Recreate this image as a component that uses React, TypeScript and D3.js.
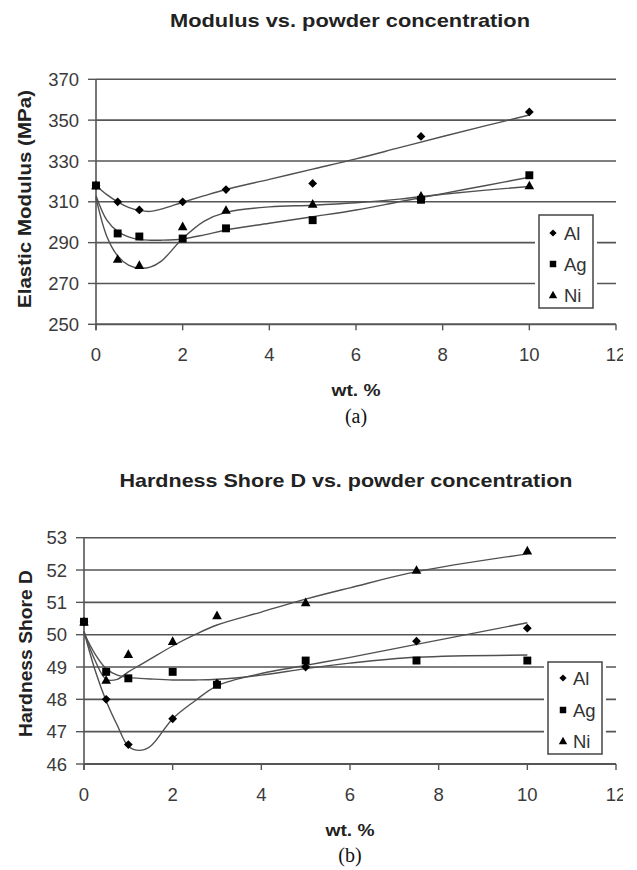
import React from "react";
import * as d3 from "d3";

// ---------- data ----------
const wt = [0, 0.5, 1, 2, 3, 5, 7.5, 10];
const xTicks = [0, 2, 4, 6, 8, 10, 12];

const modulusTicks = [250, 270, 290, 310, 330, 350, 370];
const modulusAl = [318, 310, 306, 310, 316, 319, 342, 354];
const modulusAg = [318, 294.5, 293, 292, 297, 301, 311, 323];
const modulusNi = [318, 282, 279, 298, 306, 309, 313, 318];

const modTrendX = [0, 0.25, 0.5, 0.75, 1, 1.25, 1.5, 2, 2.5, 3, 4, 5, 6, 7, 8, 9, 10];
const modTrendAl = [318, 313.5, 310, 307.3, 305.8, 305.3, 306.4, 309.8, 313, 316, 321, 326, 331, 336.5, 342, 347.3, 352.5];
const modTrendAg = [313, 301, 295.5, 292.8, 291.5, 291.2, 291.2, 291.8, 293.8, 296.2, 299.5, 302.7, 306, 310, 314, 318, 322];
const modTrendNi = [312, 293, 283.5, 279, 277.5, 278, 280.8, 292, 300.5, 304.8, 307.5, 308.3, 309.5, 311.3, 313.7, 315.7, 317.5];

const hardnessTicks = [46, 47, 48, 49, 50, 51, 52, 53];
const hardnessAl = [50.4, 48.0, 46.6, 47.4, 48.5, 49.0, 49.8, 50.2];
const hardnessAg = [50.4, 48.85, 48.65, 48.85, 48.45, 49.2, 49.2, 49.2];
const hardnessNi = [50.4, 48.6, 49.4, 49.8, 50.6, 51.0, 52.0, 52.6];

const hardTrendX = [0, 0.25, 0.5, 0.75, 1, 1.25, 1.5, 2, 2.5, 3, 4, 5, 6, 7.5, 10];
const hardTrendAl = [50.1, 48.9, 47.95, 47.2, 46.55, 46.42, 46.55, 47.4, 47.95, 48.42, 48.8, 49.05, 49.3, 49.7, 50.37];
const hardTrendAg = [50.05, 49.4, 48.95, 48.75, 48.68, 48.65, 48.63, 48.6, 48.6, 48.62, 48.75, 48.95, 49.12, 49.3, 49.37];
const hardTrendNi = [50.1, 49.2, 48.62, 48.62, 48.85, 49.05, 49.25, 49.65, 50.0, 50.3, 50.7, 51.1, 51.45, 51.95, 52.5];

const seriesNames = ["Al", "Ag", "Ni"];

// ---------- helpers ----------
const FONT = "'Liberation Sans', Arial, sans-serif";
const GRID = "#555";
const CURVE = "#505050";

function markerPath(kind: string, s: number) {
  if (kind === "Al") return `M0,${-s}L${s},0L0,${s}L${-s},0Z`;
  if (kind === "Ag") return `M${-s * 0.9},${-s * 0.9}H${s * 0.9}V${s * 0.9}H${-s * 0.9}Z`;
  return `M0,${-s}L${s},${s * 0.8}L${-s},${s * 0.8}Z`;
}

type PanelProps = {
  id: string;
  title: string;
  titleX: number;
  titleY: number;
  titleLen: number;
  yLabel: string;
  yLabelX: number;
  yLabelY: number;
  yLabelLen: number;
  x0: number;
  x1: number;
  yTop: number;
  yBottom: number;
  yTicks: number[];
  series: number[][];
  trendX: number[];
  trends: number[][];
  legend: { x: number; y: number; w: number; h: number; rows: number[]; mx: number; tx: number };
  wtY: number;
  subLabel: string;
  subY: number;
};

function Panel(p: PanelProps) {
  const x = d3.scaleLinear().domain([0, 12]).range([p.x0, p.x1]);
  const y = d3
    .scaleLinear()
    .domain([p.yTicks[0], p.yTicks[p.yTicks.length - 1]])
    .range([p.yBottom, p.yTop]);
  const line = d3
    .line<number>()
    .x((_, i) => x(p.trendX[i]))
    .y((d) => y(d))
    .curve(d3.curveCatmullRom.alpha(0.5));
  const L = p.legend;
  return (
    <g>
      <defs>
        <clipPath id={`clip-${p.id}`}>
          <rect x={0} y={0} width={623} height={870} />
        </clipPath>
      </defs>
      <text
        x={p.titleX}
        y={p.titleY}
        textAnchor="middle"
        fontFamily={FONT}
        fontWeight="bold"
        fontSize={19}
        fill="#222"
        textLength={p.titleLen}
        lengthAdjust="spacingAndGlyphs"
      >
        {p.title}
      </text>
      {/* gridlines */}
      {p.yTicks.map((t) => (
        <g key={t}>
          <line x1={p.x0} x2={p.x1} y1={y(t)} y2={y(t)} stroke={GRID} strokeWidth={1.6} />
          <line x1={p.x0 - 8} x2={p.x0} y1={y(t)} y2={y(t)} stroke={GRID} strokeWidth={1.4} />
          <text
            x={p.x0 - 17}
            y={y(t)}
            dy="0.36em"
            textAnchor="end"
            fontFamily={FONT}
            fontSize={18.5}
            fill="#3a3a3a"
          >
            {t}
          </text>
        </g>
      ))}
      {/* axes */}
      <line x1={p.x0} x2={p.x0} y1={p.yTop} y2={p.yBottom + 6} stroke={GRID} strokeWidth={1.6} />
      <line x1={p.x0} x2={p.x1} y1={p.yBottom} y2={p.yBottom} stroke={GRID} strokeWidth={1.8} />
      <g clipPath={`url(#clip-${p.id})`}>
        {xTicks.map((t) => (
          <g key={t}>
            <line x1={x(t)} x2={x(t)} y1={p.yBottom} y2={p.yBottom + 6} stroke={GRID} strokeWidth={1.4} />
            <text
              x={x(t)}
              y={p.yBottom + 37}
              textAnchor="middle"
              fontFamily={FONT}
              fontSize={18.5}
              fill="#3a3a3a"
            >
              {t}
            </text>
          </g>
        ))}
      </g>
      {/* trend curves */}
      {p.trends.map((tr, i) => (
        <path key={i} d={line(tr) || ""} fill="none" stroke={CURVE} strokeWidth={1.4} />
      ))}
      {/* markers */}
      {p.series.map((s, si) =>
        s.map((v, i) => (
          <path
            key={`${si}-${i}`}
            d={markerPath(seriesNames[si], si === 2 ? 4.8 : si === 1 ? 4.4 : 4.4)}
            transform={`translate(${x(wt[i])},${y(v)})`}
            fill="#000"
          />
        ))
      )}
      {/* legend */}
      <rect x={L.x - 4} y={L.y - 4} width={L.w + 8} height={L.h + 8} fill="#fff" />
      <rect x={L.x} y={L.y} width={L.w} height={L.h} fill="#fff" stroke="#444" strokeWidth={1.5} />
      {seriesNames.map((n, i) => (
        <g key={n}>
          <path d={markerPath(n, n === "Ni" ? 4.2 : 3.6)} transform={`translate(${L.mx},${L.rows[i]})`} fill="#000" />
          <text x={L.tx} y={L.rows[i]} dy="0.36em" fontFamily={FONT} fontSize={18.5} fill="#333">
            {n}
          </text>
        </g>
      ))}
      {/* y label */}
      <text
        transform={`translate(${p.yLabelX},${p.yLabelY}) rotate(-90)`}
        textAnchor="middle"
        fontFamily={FONT}
        fontWeight="bold"
        fontSize={19}
        fill="#222"
        textLength={p.yLabelLen}
        lengthAdjust="spacingAndGlyphs"
      >
        {p.yLabel}
      </text>
      {/* x label */}
      <text
        x={(p.x0 + p.x1) / 2}
        y={p.wtY}
        textAnchor="middle"
        fontFamily={FONT}
        fontWeight="bold"
        fontSize={16}
        fill="#222"
        textLength={49}
        lengthAdjust="spacingAndGlyphs"
      >
        wt. %
      </text>
      <text
        x={(p.x0 + p.x1) / 2}
        y={p.subY}
        textAnchor="middle"
        fontFamily="'Liberation Serif', 'Times New Roman', serif"
        fontSize={20}
        fill="#111"
      >
        {p.subLabel}
      </text>
    </g>
  );
}

export default function App() {
  return (
    <svg
      width={637}
      height={870}
      style={{ position: "absolute", left: 0, top: 0, background: "#fff" }}
    >
      <rect width={637} height={870} fill="#fff" />
      <Panel
        id="a"
        title="Modulus vs. powder concentration"
        titleX={350}
        titleY={27}
        titleLen={360}
        yLabel="Elastic Modulus (MPa)"
        yLabelX={31}
        yLabelY={199}
        yLabelLen={218}
        x0={96}
        x1={616}
        yTop={79.3}
        yBottom={324.3}
        yTicks={modulusTicks}
        series={[modulusAl, modulusAg, modulusNi]}
        trendX={modTrendX}
        trends={[modTrendAl, modTrendAg, modTrendNi]}
        legend={{ x: 539, y: 215, w: 54, h: 93, rows: [233, 264, 295], mx: 553, tx: 564 }}
        wtY={396}
        subLabel="(a)"
        subY={423}
      />
      <Panel
        id="b"
        title="Hardness Shore D vs. powder concentration"
        titleX={346}
        titleY={487}
        titleLen={453}
        yLabel="Hardness Shore D"
        yLabelX={31.5}
        yLabelY={653.5}
        yLabelLen={167}
        x0={84}
        x1={616}
        yTop={537.7}
        yBottom={764}
        yTicks={hardnessTicks}
        series={[hardnessAl, hardnessAg, hardnessNi]}
        trendX={hardTrendX}
        trends={[hardTrendAl, hardTrendAg, hardTrendNi]}
        legend={{ x: 548, y: 662, w: 54, h: 92, rows: [678, 710, 741], mx: 563, tx: 573 }}
        wtY={836}
        subLabel="(b)"
        subY={862}
      />
    </svg>
  );
}
